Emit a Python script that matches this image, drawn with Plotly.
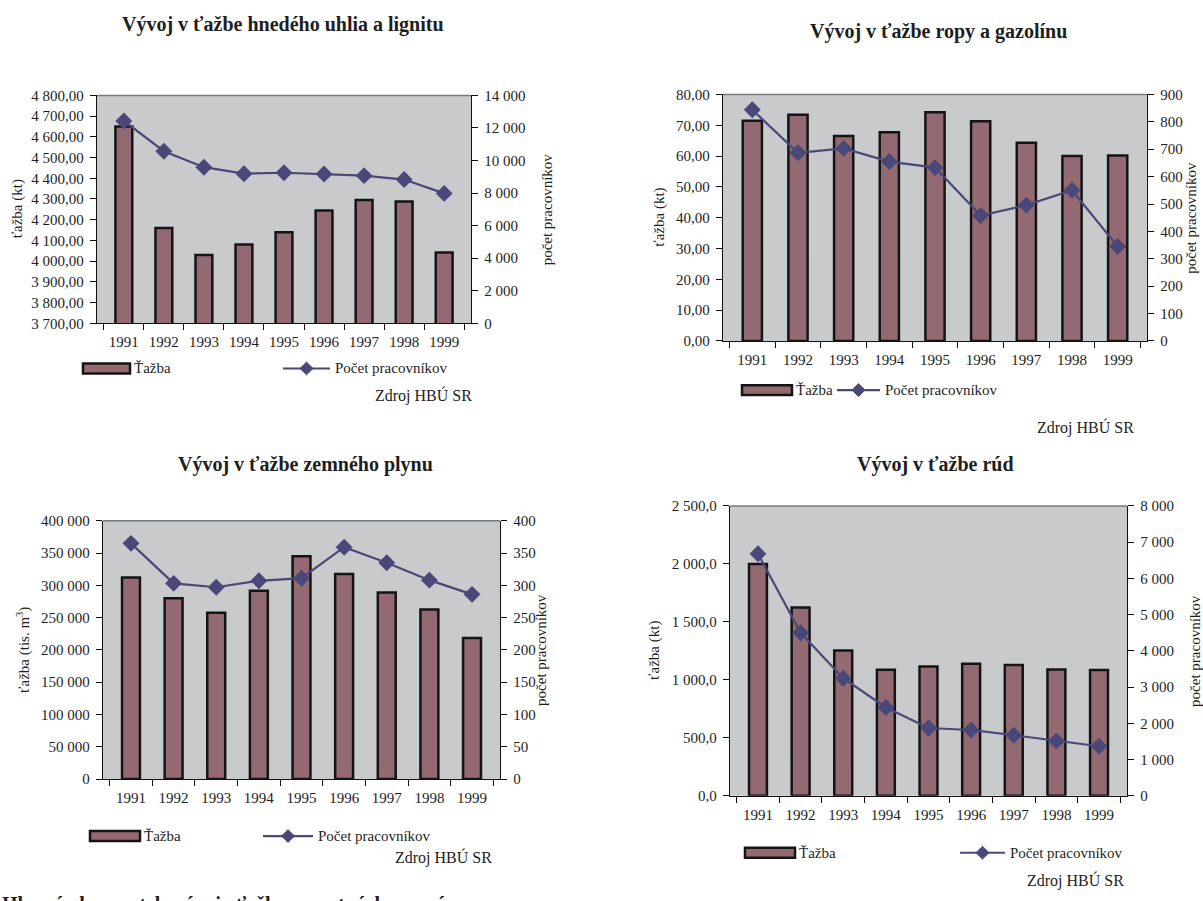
import plotly.graph_objects as go

# ---------------- data ----------------
years = ["1991", "1992", "1993", "1994", "1995", "1996", "1997", "1998", "1999"]

coal_tazba = [4650, 4160, 4030, 4080, 4140, 4245, 4295, 4288, 4042]
coal_workers = [12430, 10570, 9590, 9190, 9250, 9170, 9070, 8830, 7980]
coal_left_ticks = [3700, 3800, 3900, 4000, 4100, 4200, 4300, 4400, 4500, 4600, 4700, 4800]
coal_right_ticks = [0, 2000, 4000, 6000, 8000, 10000, 12000, 14000]

oil_tazba = [71.5, 73.4, 66.5, 67.7, 74.2, 71.3, 64.3, 60.0, 60.2]
oil_workers = [844, 687, 703, 655, 633, 458, 496, 550, 345]
oil_left_ticks = [0, 10, 20, 30, 40, 50, 60, 70, 80]
oil_right_ticks = [0, 100, 200, 300, 400, 500, 600, 700, 800, 900]

gas_tazba = [312000, 280000, 257500, 291500, 345000, 317500, 289000, 262500, 218500]
gas_workers = [365, 303, 297, 307, 311, 359, 335, 308, 286]
gas_left_ticks = [0, 50000, 100000, 150000, 200000, 250000, 300000, 350000, 400000]
gas_right_ticks = [0, 50, 100, 150, 200, 250, 300, 350, 400]

ore_tazba = [2000, 1624, 1253, 1087, 1115, 1138, 1129, 1090, 1084]
ore_workers = [6680, 4500, 3245, 2436, 1870, 1816, 1672, 1510, 1366]
ore_left_ticks = [0, 500, 1000, 1500, 2000, 2500]
ore_right_ticks = [0, 1000, 2000, 3000, 4000, 5000, 6000, 7000, 8000]

bar_name = "Ťažba"
line_name = "Počet pracovníkov"
source_text = "Zdroj HBÚ SR"

# ---------------- style ----------------
W, H = 1203, 901
FONT = "Liberation Serif"
TXT = "#1e1e1e"
BAR_FILL = "#936a72"
BAR_EDGE = "#141414"
LINE_COL = "#4a4878"
PLOT_BG = "#c9cacc"
TICK_SIZE = 15
LABEL_SIZE = 15


def fx(x):
    return x / W


def fy(y):
    return 1 - y / H


charts = [
    dict(title="Vývoj v ťažbe hnedého uhlia a lignitu", title_xy=(283, 17),
         plot=(97, 471, 89, 321), bars=coal_tazba, line=coal_workers,
         yl_range=[3700, 4800], yl_ticks=coal_left_ticks, yl_fmt=",.2f",
         yr_range=[0, 14000], yr_ticks=coal_right_ticks, yr_fmt=",d",
         yl_title="ťažba (kt)", yl_tx=17, yr_tx=547,
         leg_y=367, swatch=(83, 130), lleg=(283, 330), zdroj=(474, 395)),
    dict(title="Vývoj v ťažbe ropy a gazolínu", title_xy=(938, 24),
         plot=(723, 1147, 88, 339), bars=oil_tazba, line=oil_workers,
         yl_range=[0, 80], yl_ticks=oil_left_ticks, yl_fmt=",.2f",
         yr_range=[0, 900], yr_ticks=oil_right_ticks, yr_fmt=",d",
         yl_title="ťažba (kt)", yl_tx=660, yr_tx=1191,
         leg_y=389, swatch=(742, 792), lleg=(837, 880), zdroj=(1136, 427)),
    dict(title="Vývoj v ťažbe zemného plynu", title_xy=(305, 465),
         plot=(103, 500, 522, 785), bars=gas_tazba, line=gas_workers,
         yl_range=[0, 400000], yl_ticks=gas_left_ticks, yl_fmt=",d",
         yr_range=[0, 400], yr_ticks=gas_right_ticks, yr_fmt=",d",
         yl_title="ťažba (tis. m<sup>3</sup>)", yl_tx=24, yr_tx=541,
         leg_y=843, swatch=(90, 140), lleg=(263, 313), zdroj=(494, 865)),
    dict(title="Vývoj v ťažbe rúd", title_xy=(935, 465),
         plot=(730, 1127, 507, 802), bars=ore_tazba, line=ore_workers,
         yl_range=[0, 2500], yl_ticks=ore_left_ticks, yl_fmt=",.1f",
         yr_range=[0, 8000], yr_ticks=ore_right_ticks, yr_fmt=",d",
         yl_title="ťažba (kt)", yl_tx=655, yr_tx=1195,
         leg_y=860, swatch=(745, 795), lleg=(960, 1005), zdroj=(1126, 888)),
]

fig = go.Figure()
layout = dict(
    width=W, height=H,
    margin=dict(l=0, r=0, t=0, b=0),
    paper_bgcolor="white", plot_bgcolor=PLOT_BG,
    separators=", ",
    showlegend=False,
    font=dict(family=FONT, size=TICK_SIZE, color=TXT),
)
shapes = []
annotations = []

tickfont = dict(family=FONT, size=TICK_SIZE, color=TXT)

for i, c in enumerate(charts, start=1):
    xa = "x" if i == 1 else f"x{i}"
    yl_n = 2 * i - 1
    yr_n = 2 * i
    yl = "y" if yl_n == 1 else f"y{yl_n}"
    yr = f"y{yr_n}"
    x0, x1, y0, y1 = c["plot"]

    fig.add_trace(go.Bar(
        x=years, y=c["bars"], xaxis=xa, yaxis=yl, name=bar_name,
        width=0.42,
        marker=dict(color=BAR_FILL, line=dict(color=BAR_EDGE, width=2.5)),
    ))
    fig.add_trace(go.Scatter(
        x=years, y=c["line"], xaxis=xa, yaxis=yr, name=line_name,
        mode="lines+markers",
        line=dict(color=LINE_COL, width=2.2),
        marker=dict(symbol="diamond", size=13, color=LINE_COL),
    ))

    xkey = "xaxis" if i == 1 else f"xaxis{i}"
    ylkey = "yaxis" if yl_n == 1 else f"yaxis{yl_n}"
    yrkey = f"yaxis{yr_n}"

    layout[xkey] = dict(
        domain=[fx(x0), fx(x1)], anchor=yl, type="category",
        showline=True, linecolor="#111", linewidth=1.2,
        ticks="outside", tickson="boundaries", ticklen=6, tickcolor="#111",
        ticklabelstandoff=5, tickfont=tickfont, showgrid=False,
        fixedrange=True,
    )
    layout[ylkey] = dict(
        domain=[fy(y1), fy(y0)], anchor=xa, range=c["yl_range"],
        tickvals=c["yl_ticks"], tickformat=c["yl_fmt"],
        showline=True, linecolor="#111", linewidth=1.2,
        ticks="outside", ticklen=6, tickcolor="#111",
        tickfont=tickfont, showgrid=False, zeroline=False,
        ticklabelstandoff=3, fixedrange=True,
    )
    layout[yrkey] = dict(
        domain=[fy(y1), fy(y0)], anchor=xa, overlaying=yl, side="right",
        range=c["yr_range"], tickvals=c["yr_ticks"], tickformat=c["yr_fmt"],
        showline=True, linecolor="#111", linewidth=1.2,
        ticks="outside", ticklen=6, tickcolor="#111",
        tickfont=tickfont, showgrid=False, zeroline=False,
        ticklabelstandoff=3, fixedrange=True,
    )

    # plot-area top border (gray)
    shapes.append(dict(type="line", xref=f"{xa} domain", yref=f"{yl} domain",
                       x0=0, x1=1, y0=1, y1=1,
                       line=dict(color="#7a7a7a", width=1.5)))

    # title
    tx, ty = c["title_xy"]
    annotations.append(dict(text=f"<b>{c['title']}</b>", x=fx(tx), y=fy(ty),
                            xref="paper", yref="paper", xanchor="center", yanchor="middle",
                            showarrow=False, font=dict(family=FONT, size=20, color=TXT)))
    # axis titles
    ymid = (y0 + y1) / 2
    annotations.append(dict(text=c["yl_title"], x=fx(c["yl_tx"]), y=fy(ymid),
                            xref="paper", yref="paper", xanchor="center", yanchor="middle",
                            textangle=-90, showarrow=False,
                            font=dict(family=FONT, size=LABEL_SIZE, color=TXT)))
    annotations.append(dict(text="počet pracovníkov", x=fx(c["yr_tx"]), y=fy(ymid),
                            xref="paper", yref="paper", xanchor="center", yanchor="middle",
                            textangle=-90, showarrow=False,
                            font=dict(family=FONT, size=LABEL_SIZE, color=TXT)))

    # legend (bar swatch)
    ly = c["leg_y"]
    sx0, sx1 = c["swatch"]
    shapes.append(dict(type="rect", xref="paper", yref="paper",
                       x0=fx(sx0), x1=fx(sx1), y0=fy(ly + 5), y1=fy(ly - 5),
                       fillcolor=BAR_FILL, line=dict(color=BAR_EDGE, width=2.5)))
    annotations.append(dict(text=bar_name, x=fx(sx1 + 2), y=fy(ly), xref="paper", yref="paper",
                            xanchor="left", yanchor="middle", showarrow=False,
                            font=dict(family=FONT, size=LABEL_SIZE, color=TXT)))
    # legend (line with diamond)
    lx0, lx1 = c["lleg"]
    shapes.append(dict(type="line", xref="paper", yref="paper",
                       x0=fx(lx0), x1=fx(lx1), y0=fy(ly), y1=fy(ly),
                       line=dict(color=LINE_COL, width=2.2)))
    mx = (lx0 + lx1) / 2
    d = 6.5
    shapes.append(dict(type="path", xref="paper", yref="paper",
                       path=(f"M {fx(mx - d)} {fy(ly)} L {fx(mx)} {fy(ly - d)} "
                             f"L {fx(mx + d)} {fy(ly)} L {fx(mx)} {fy(ly + d)} Z"),
                       fillcolor=LINE_COL, line=dict(color=LINE_COL, width=1)))
    annotations.append(dict(text=line_name, x=fx(lx1 + 3), y=fy(ly), xref="paper", yref="paper",
                            xanchor="left", yanchor="middle", showarrow=False,
                            font=dict(family=FONT, size=LABEL_SIZE, color=TXT)))
    # source
    zx, zy = c["zdroj"]
    annotations.append(dict(text=source_text, x=fx(zx), y=fy(zy), xref="paper", yref="paper",
                            xanchor="right", yanchor="middle", showarrow=False,
                            font=dict(family=FONT, size=16, color=TXT)))

# heading of the next section, cut off by the bottom edge of the page
annotations.append(dict(text="<b>Hlavné ukazovatele vývoja ťažby nerastných surovín</b>",
                        x=0, y=fy(899), xref="paper", yref="paper",
                        xanchor="left", yanchor="top", showarrow=False,
                        font=dict(family=FONT, size=20, color=TXT)))

layout["shapes"] = shapes
layout["annotations"] = annotations
fig.update_layout(**layout)
fig.write_html(
    "out.html",
    config={"displayModeBar": False, "staticPlot": True},
    post_script="document.body.style.margin='0px';document.body.style.overflow='hidden';",
)
